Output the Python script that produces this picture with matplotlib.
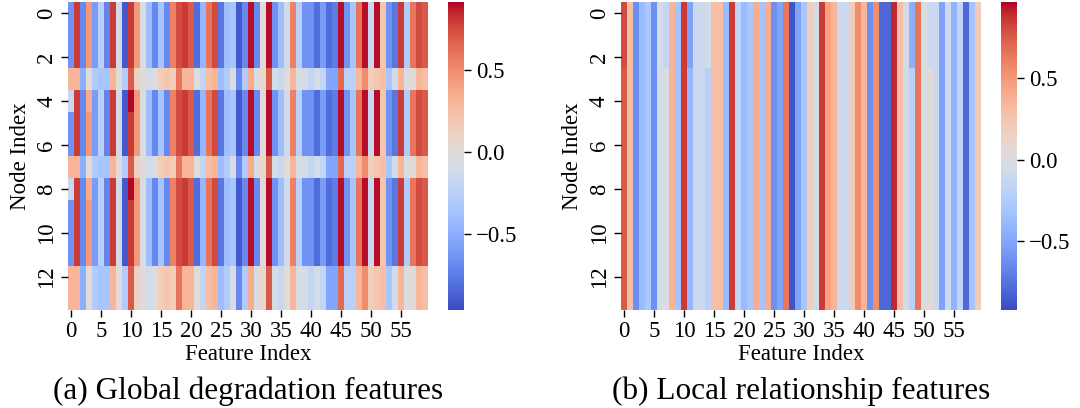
import numpy as np
import matplotlib
matplotlib.use("Agg")
import matplotlib.pyplot as plt
import seaborn as sns

# ---- values (one entry per feature column) ----
feat_ticks = list(range(0, 60, 5))
node_ticks = list(range(0, 14, 2))

# (a) global features: rows come in three kinds
glob_strong = [-0.65, 0.80, -0.70, 0.45, -0.60, -0.25, -0.72, 0.80, -0.10, -0.90,
               0.80, 0.45, -0.05, -0.40, -0.70, -0.35, -0.70, 0.55, 0.75, 0.80,
               0.70, -0.82, -0.45, 0.60, 0.75, -0.78, -0.40, -0.35, -0.90, -0.70,
               0.90, -0.70, 0.00, 0.90, -0.65, -0.40, -0.12, 0.55, -0.25, -0.65,
               -0.65, -0.82, -0.60, -0.82, -0.75, 0.90, -0.65, -0.35, 0.60, 0.90,
               -0.15, 0.90, 0.20, -0.65, -0.78, 0.80, -0.30, 0.60, 0.75, 0.70]
glob_weak = [0.30, 0.30, -0.50, 0.00, -0.30, -0.35, -0.35, 0.30, 0.00, -0.30,
             0.70, 0.10, 0.00, -0.10, -0.05, 0.15, 0.20, 0.15, 0.60, 0.30,
             0.30, 0.00, -0.20, 0.25, 0.30, -0.40, -0.30, -0.05, -0.70, -0.30,
             0.35, -0.05, 0.05, 0.70, -0.10, -0.15, 0.00, 0.30, -0.05, -0.10,
             -0.20, -0.10, -0.20, -0.55, -0.55, 0.65, -0.25, -0.25, 0.30, 0.50,
             0.15, 0.20, 0.25, -0.35, -0.10, 0.30, -0.05, 0.00, 0.30, 0.25]
glob_edge_fix = {0: -0.15, 3: 0.35, 10: 0.95}   # rows 4 and 8 differ a bit
glob_rows = ["s", "s", "s", "w", "e", "s", "s", "w", "e", "s", "s", "s", "w", "w"]

# (b) local features: nearly constant down each column
loc_top = [0.80, 0.30, -0.62, -0.38, -0.28, -0.62, -0.05, -0.15, 0.35, -0.32,
           0.85, -0.52, -0.10, -0.10, -0.05, 0.30, 0.30, -0.38, 0.85, -0.15,
           -0.38, -0.28, 0.40, -0.32, 0.40, -0.62, -0.52, 0.65, -0.88, -0.52,
           -0.30, 0.20, -0.05, 0.85, 0.45, 0.35, -0.10, -0.10, 0.20, 0.55,
           0.35, -0.62, 0.55, -0.80, -0.80, 0.90, 0.30, -0.05, -0.45, 0.65,
           0.00, -0.10, -0.10, -0.52, -0.10, -0.42, -0.15, -0.80, -0.32, 0.20]
loc_rest_fix = {0: 0.75, 7: 0.00, 11: -0.40, 14: -0.20, 48: -0.20, 51: 0.05}
loc_rows = ["t", "t", "t"] + ["r"] * 11

glob_edge = list(glob_strong)
for k, v in glob_edge_fix.items():
    glob_edge[k] = v
loc_rest = list(loc_top)
for k, v in loc_rest_fix.items():
    loc_rest[k] = v

glob = np.array([{"s": glob_strong, "w": glob_weak, "e": glob_edge}[r] for r in glob_rows])
loc = np.array([{"t": loc_top, "r": loc_rest}[r] for r in loc_rows])

plt.rcParams['font.family'] = ['Liberation Serif', 'DejaVu Serif']
plt.rcParams['axes.unicode_minus'] = True

fig = plt.figure(figsize=(10.8, 4.08), dpi=100)
W, H = 1080.0, 408.0
bot = 1 - 309.6 / H
hgt = 307.3 / H

panels = [
    (glob, -0.965, 0.915, 68.3, 448.3, "(a) Global degradation features"),
    (loc, -0.92, 0.965, 621.0, 1001.0, "(b) Local relationship features"),
]

for data, lo, hi, x0, cx0, caption in panels:
    ax = fig.add_axes([x0 / W, bot, 360 / W, hgt])
    cax = fig.add_axes([cx0 / W, bot, 16 / W, hgt])
    sns.heatmap(data, cmap="coolwarm", vmin=lo, vmax=hi, ax=ax, cbar_ax=cax,
                xticklabels=False, yticklabels=False)
    ax.set_xticks(np.array(feat_ticks) + 0.5)
    ax.set_xticklabels([str(t) for t in feat_ticks], fontsize=16.5, rotation=0)
    ax.set_yticks(np.array(node_ticks) + 0.5)
    ax.set_yticklabels([str(t) for t in node_ticks], fontsize=16.5,
                       rotation=90, va="center")
    ax.tick_params(length=5, width=1, pad=3)
    ax.set_xlabel("Feature Index", fontsize=16.5, labelpad=2)
    ax.set_ylabel("Node Index", fontsize=16.5, labelpad=4)
    cax.set_yticks([-0.5, 0.0, 0.5])
    cax.tick_params(labelsize=16.5, length=5, width=1)
    fig.text((x0 + 180) / W, 1 - 399 / H, caption, fontsize=22.5,
             ha="center", va="baseline")

fig.savefig("out.png", dpi=100)
